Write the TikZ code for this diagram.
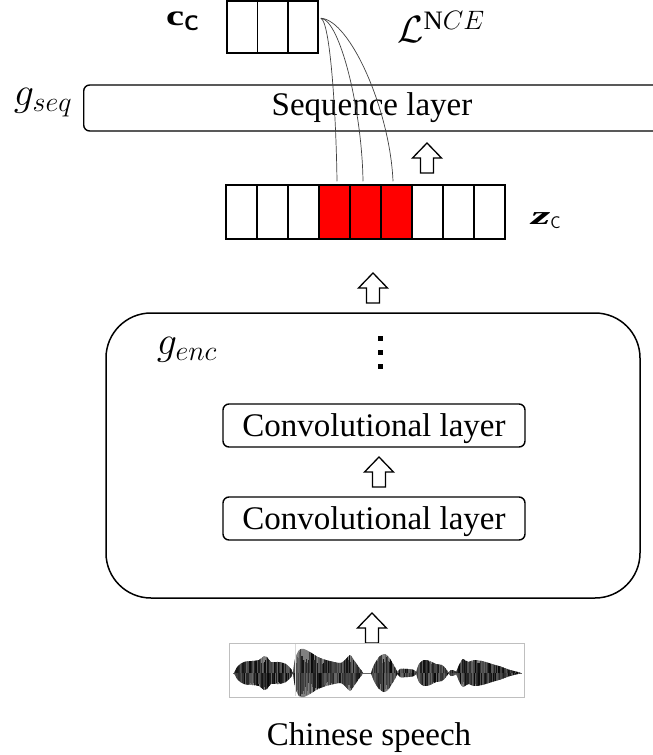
\RequirePackage{fix-cm}
\documentclass[tikz,border=0pt]{standalone}
\usepackage{fontspec}
\setmainfont{Liberation Serif}
\usetikzlibrary{calc}

% one piece of the speech waveform: each half is clipped to its envelope and
% filled with grey plus dark vertical streaks of random length and shade
\newcommand\wavepart[1]{%
  \foreach \s in {1,-1}{%
    \begin{scope}[yscale=\s]
      \clip plot[smooth,tension=0.5] coordinates {#1} -- cycle;
      \fill[black!50] (225,0) rectangle (525,30);
      \foreach \x in {226,227.1,...,524}{%
        \pgfmathtruncatemacro\shade{60+38*rnd}%
        \draw[black!\shade, line width=1.2pt] (\x,0) -- (\x,{9+19*rnd});}
    \end{scope}}}

\tikzset{
  box/.style={draw, line width=1.4pt, rounded corners=6pt, inner sep=0pt,
    text depth=0pt, font=\fontsize{33}{40}\selectfont},
  cell/.style={draw, line width=1.5pt, minimum width=31pt, minimum height=54pt, inner sep=0pt},
  ccell/.style={cell, minimum width=30.4pt, minimum height=52pt},
  hot/.style={cell, fill=red},
  txt/.style={inner sep=0pt, font=\fontsize{33}{40}\selectfont},
  mlbl/.style={inner sep=0pt, font=\fontsize{40}{48}\selectfont},
  dot/.style={fill=black, inner sep=0pt, minimum size=5pt},
  link/.style={draw=black!75, line width=0.7pt},
  uparr/.pic={\draw[line width=1.3pt, fill=white, line join=miter]
    (0,-15) -- (14.5,0) -- (6.5,0) -- (6.5,15) -- (-6.5,15) -- (-6.5,0) -- (-14.5,0) -- cycle;},
}

\begin{document}
\begin{tikzpicture}[x=1pt, y=-1pt]
\useasboundingbox (0,0) rectangle (653,755);

% context vector c_C
\foreach \i/\x in {1/242.2,2/272.6,3/303}{
  \node[ccell] (c\i) at (\x,27) {};
}
\node[inner sep=0pt, anchor=base west] (cclbl) at (166,25)
  {\fontsize{29}{34}\selectfont\scalebox{1.4}[1]{\bfseries c}\raisebox{-5pt}{\fontsize{21}{24}\selectfont\sffamily\bfseries C}};
\node[mlbl, font=\fontsize{38}{44}\selectfont] (nce) at (441,27) {$\mathcal{L}^{\mathrm{N}CE}$};

% sequence layer
\node[box, minimum width=600pt, minimum height=46pt, anchor=west] (seq) at (83,108) {};
\node[txt, anchor=base] (seqtxt) at (372,115) {Sequence layer};
\node[mlbl] (gseq) at (43,103) {$g_{seq}$};
\pic at (427,158) {uparr};

% latent vectors z_C
\foreach \i in {1,...,9}{
  \ifnum\i>3 \ifnum\i<7
    \node[hot] (z\i) at ({241.5+31*(\i-1)},212) {};
  \else
    \node[cell] (z\i) at ({241.5+31*(\i-1)},212) {};
  \fi \else
    \node[cell] (z\i) at ({241.5+31*(\i-1)},212) {};
  \fi
}
\node[inner sep=0pt, anchor=base west] (zclbl) at (531,224)
  {\fontsize{26}{30}\selectfont\scalebox{1.9}[1]{\bfseries\itshape z}\raisebox{-4pt}{\fontsize{17}{20}\selectfont\sffamily C}};

% links from c_C to the predicted steps
\coordinate (ccout) at ($(c3.north east)+(2,18)$);
\draw[link] (ccout) .. controls (330,22) and (336,110) .. ($(z4.north)+(2.5,-3)$);
\draw[link] (ccout) .. controls (340,20) and (362,110) .. ($(z5.north)+(-2.5,-3)$);
\draw[link] (ccout) .. controls (350,20) and (390,110) .. ($(z6.north)+(-3.5,-3)$);

\pic at (373,288) {uparr};

% encoder
\node[draw, line width=1.5pt, rounded corners=45pt, minimum width=534pt,
  minimum height=285pt, inner sep=0pt] (enc) at (373,455.5) {};
\node[mlbl] (genc) at (187,350) {$g_{enc}$};
\node[dot] (d1) at (380,338) {};
\node[dot] (d2) at (380,352) {};
\node[dot] (d3) at (380,366) {};
\node[box, minimum width=302pt, minimum height=43pt] (conv1) at (374,425.5) {Convolutional layer};
\pic at (379,472) {uparr};
\node[box, minimum width=302pt, minimum height=43pt] (conv2) at (374,518.5) {Convolutional layer};

\pic at (372,628) {uparr};

% speech waveform
\node[draw=black!25, line width=1pt, minimum width=295pt, minimum height=54pt, inner sep=0pt] (wave) at (376.5,670) {};
\begin{scope}[shift={(0,673)}]
  \draw[black!60, line width=0.8pt] (233,0) -- (522,0);
  \wavepart{(234,0)(238,7)(244,11)(252,12)(259,13)(264,17)(267,16)(271,11)(279,11)(286,9)(291,4)(293,0)}
  \wavepart{(293,0)(295,14)(299,23)(304,24)(310,21)(318,16)(326,13)(334,11)(341,10)(346,14)(350,18)(354,13)(358,7)(362,2)(363,0)}
  \wavepart{(371,0)(374,8)(379,16)(384,19)(388,17)(392,11)(396,4)(398,0)}
  \wavepart{(397,0)(400,4)(408,4)(414,3)(417,0)}
  \wavepart{(416,0)(419,9)(424,13)(430,12)(436,9)(442,8)(446,4)(449,0)}
  \wavepart{(448,0)(451,3)(455,2)(457,0)}
  \wavepart{(456,0)(459,8)(463,14)(468,11)(474,13)(482,12)(492,9)(502,6)(510,3)(518,1)(521,0)}
\end{scope}
\draw[black!15, line width=0.8pt] (295,644) -- (295,696);
\node[txt, anchor=base] (cap) at (369,745) {Chinese speech};
\end{tikzpicture}
\end{document}
